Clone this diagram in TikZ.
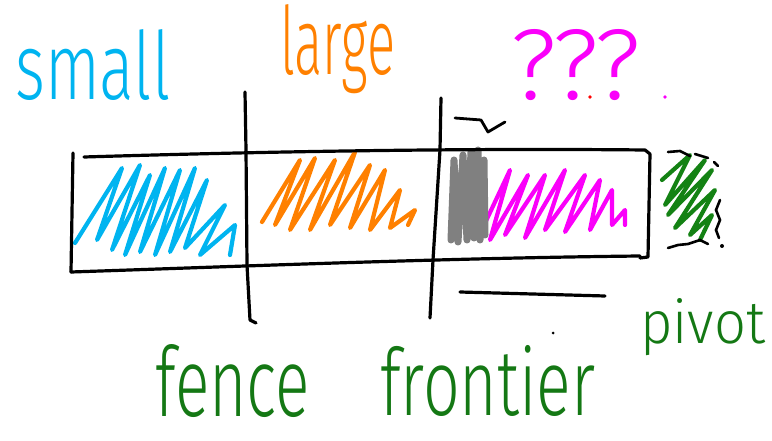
\documentclass[tikz,border=0pt]{standalone}
\usepackage{fontspec}
\setmainfont{Liberation Sans}
\newfontfamily\hand{Fira Sans Light}
\definecolor{skcyan}{RGB}{0,180,240}
\definecolor{skorange}{RGB}{255,128,0}
\definecolor{skmag}{RGB}{250,0,250}
\definecolor{skgray}{RGB}{128,128,128}
\definecolor{skgreen}{RGB}{20,130,20}
\definecolor{sktext}{RGB}{20,120,20}
\begin{document}
\begin{tikzpicture}[x=1pt,y=-1pt,
  ink/.style={line width=3.2pt,line cap=round,line join=round},
  scrib/.style={line width=4.2pt,line cap=round,line join=round},
  lbl/.style={inner sep=0pt,anchor=base west,font=\hand}]
\useasboundingbox (0,0) rectangle (772,441);
% scribbles
\draw[scrib,skcyan] (75,243) -- (122,168) -- (97,240) -- (140,165) -- (112,250) -- (150,175) -- (125,255) -- (165,168) -- (140,252) -- (180,170) -- (155,255) -- (195,168) -- (170,252) -- (207,180) -- (185,248) -- (225,205) -- (200,255) -- (235,225) -- (230,255);
\draw[scrib,skorange] (262,222) -- (300,160) -- (275,225) -- (315,158) -- (290,230) -- (335,160) -- (310,230) -- (355,152) -- (330,225) -- (370,165) -- (350,228) -- (385,170) -- (370,230) -- (400,190) -- (390,228) -- (415,210) -- (408,225);
\draw[scrib,skmag] (478,238) -- (510,170) -- (490,240) -- (528,175) -- (505,235) -- (545,175) -- (525,238) -- (565,170) -- (545,230) -- (585,175) -- (565,232) -- (600,180) -- (590,230) -- (612,190) -- (612,225) -- (625,210) -- (625,225);
\draw[line width=7pt,line cap=round,line join=round,skgray] (451,240) -- (454,160) -- (458,242) -- (463,155) -- (467,240) -- (471,152) -- (474,238) -- (478,150) -- (480,240) -- (484,160) -- (485,235);
\draw[scrib,skgreen] (662,180) -- (690,155) -- (665,205) -- (705,160) -- (668,215) -- (712,170) -- (675,228) -- (715,190) -- (690,235) -- (712,215) -- (700,240);
% black marks around pivot
\draw[line width=2.6pt,line cap=round] (668,152) -- (680,151) -- (690,156) (695,154) -- (708,158) (714,162) -- (718,166);
\draw[line width=2.6pt,line cap=round] (720,200) -- (716,210) -- (720,220) -- (716,230) -- (719,238);
\fill (722,246) circle (2pt);
\draw[line width=2.6pt,line cap=round] (668,248) -- (678,245) -- (688,244) -- (700,240) -- (708,244);
% frame
\draw[ink] (73,153) -- (71,272);
\draw[ink] (84,157) .. controls (250,152) and (450,148) .. (645,150) -- (650,154) -- (648,257) -- (640,258);
\draw[ink] (71,272) .. controls (250,266) and (450,258) .. (640,256);
\draw[ink] (245,92) -- (246,150) -- (247,265) -- (250,320) -- (256,323);
\draw[ink] (441,98) -- (440,150) -- (433,260) -- (430,318);
\draw[ink] (460,292) -- (605,296);
\fill (553,333) circle (1.5pt);
% arrow
\draw[line width=2.8pt,line cap=round,line join=round] (455,118) -- (481,120) -- (488,132) -- (505,122);
% dots
\fill[red] (590,97) circle (1.8pt);
\fill[skmag] (665,97) circle (1.8pt);
% labels
\node[lbl,skcyan] (small) at (15,100) {\resizebox{155pt}{70pt}{small}};
\node[lbl,skorange] (large) at (280,75) {\resizebox{115pt}{70pt}{large}};
\node[lbl,skmag] (qqq) at (510,100) {\resizebox{130pt}{70pt}{???}};
\node[lbl,sktext] (fence) at (155,416) {\resizebox{155pt}{72pt}{fence}};
\node[lbl,sktext] (frontier) at (380,415) {\resizebox{215pt}{70pt}{frontier}};
\node[lbl,sktext] (pivot) at (640,343) {\resizebox{125pt}{45pt}{pivot}};
\end{tikzpicture}
\end{document}
